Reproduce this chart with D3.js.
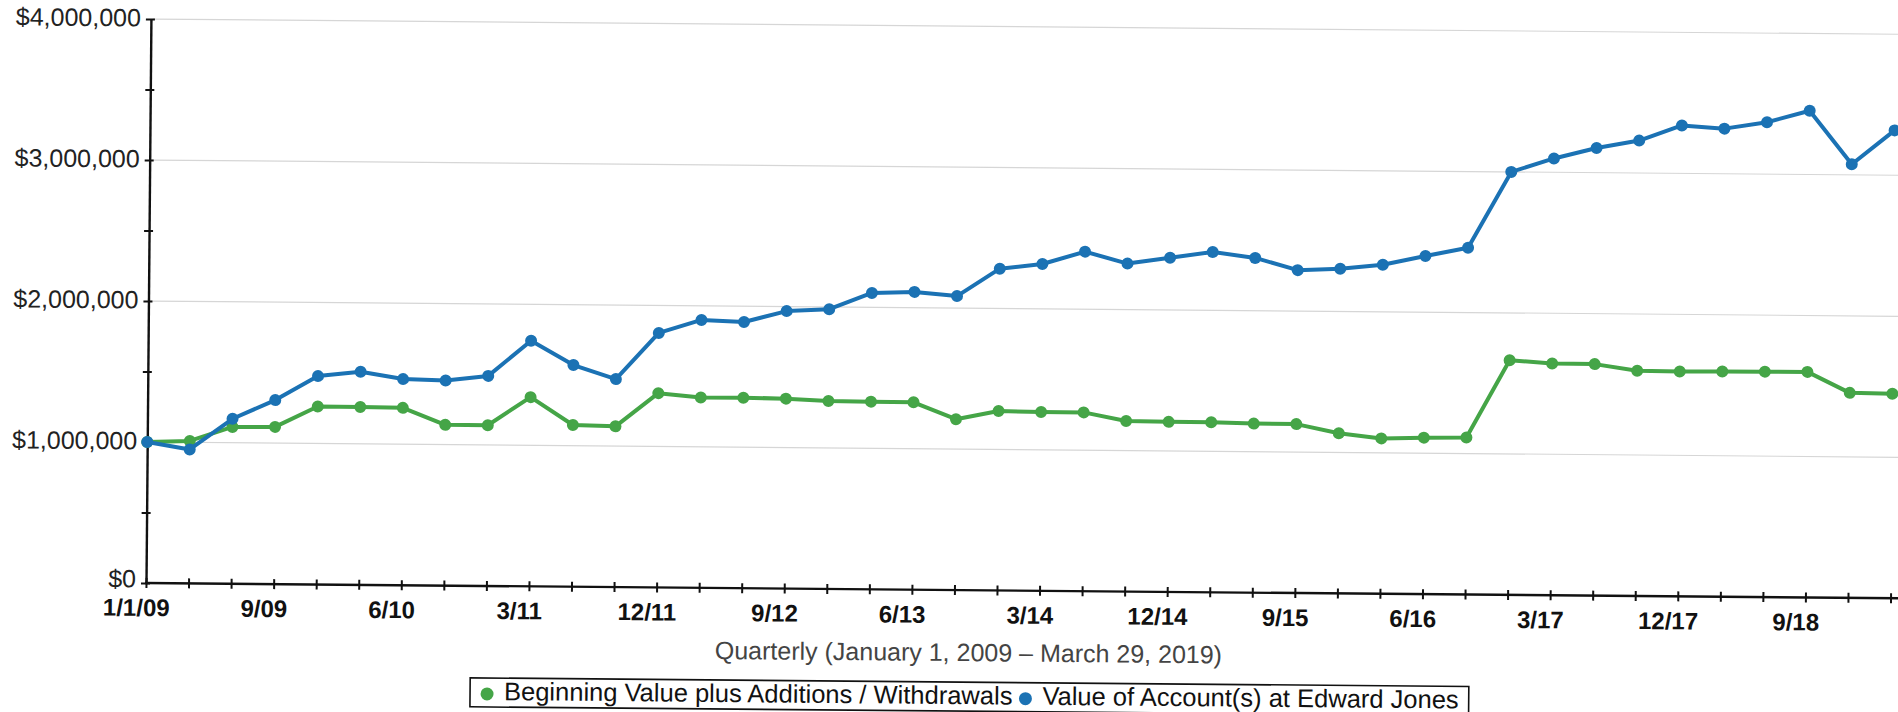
<!DOCTYPE html>
<html>
<head>
<meta charset="utf-8">
<script src="https://cdn.jsdelivr.net/npm/d3@7"></script>
<style>
  html, body { margin: 0; padding: 0; background: #fff; }
  svg { display: block; font-family: "Liberation Sans", Arial, sans-serif; }
</style>
</head>
<body>
<svg id="chart" width="1898" height="712"></svg>
<script>
// quarter ends, 1/1/09 .. 3/19
const quarters = [
  "1/1/09", "3/09", "6/09", "9/09", "12/09", "3/10", "6/10", "9/10", "12/10",
  "3/11", "6/11", "9/11", "12/11", "3/12", "6/12", "9/12", "12/12",
  "3/13", "6/13", "9/13", "12/13", "3/14", "6/14", "9/14", "12/14",
  "3/15", "6/15", "9/15", "12/15", "3/16", "6/16", "9/16", "12/16",
  "3/17", "6/17", "9/17", "12/17", "3/18", "6/18", "9/18", "12/18", "3/19"
];
const shownLabels = ["1/1/09", "9/09", "6/10", "3/11", "12/11", "9/12", "6/13",
  "3/14", "12/14", "9/15", "6/16", "3/17", "12/17", "9/18"];

const beginningValue = [
  1000000, 1010000, 1112000, 1115000, 1262000, 1262000, 1258000, 1140000, 1140000,
  1342000, 1147000, 1140000, 1378000, 1350000, 1351000, 1347000, 1333000,
  1331000, 1329000, 1212000, 1273000, 1268000, 1268000, 1210000, 1206000,
  1206000, 1199000, 1198000, 1136000, 1102000, 1110000, 1114000, 1664000,
  1644000, 1642000, 1597000, 1595000, 1598000, 1599000, 1600000, 1454000, 1450000
];
const accountValue = [
  1000000, 950000, 1170000, 1305000, 1478000, 1512000, 1462000, 1455000, 1490000,
  1742000, 1572000, 1475000, 1805000, 1900000, 1888000, 1968000, 1984000,
  2102000, 2112000, 2085000, 2282000, 2318000, 2408000, 2326000, 2370000,
  2414000, 2374000, 2290000, 2302000, 2333000, 2398000, 2459000, 3000000,
  3098000, 3175000, 3230000, 3340000, 3320000, 3368000, 3452000, 3075000, 3318000
];
const yTicks = [0, 500000, 1000000, 1500000, 2000000, 2500000, 3000000, 3500000, 4000000];

const series = [
  { name: "Beginning Value plus Additions / Withdrawals", values: beginningValue, color: "#45a547" },
  { name: "Value of Account(s) at Edward Jones", values: accountValue, color: "#1b72b4" }
];

const svg = d3.select("#chart");
// the source is a slightly skewed scan, so the whole drawing is tilted a bit
const g = svg.append("g").attr("transform", "rotate(0.5, 146, 583)");

const x = d3.scalePoint().domain(quarters).range([146, 1890.6]);
const y = d3.scaleLinear().domain([0, 4000000]).range([583, 19]);

// gridlines
g.append("g")
  .selectAll("line")
  .data(yTicks.filter(d => d > 0 && d % 1000000 === 0))
  .enter().append("line")
  .attr("x1", 148).attr("x2", 1910)
  .attr("y1", d => y(d)).attr("y2", d => y(d))
  .attr("stroke", "#d6d6d6")
  .attr("stroke-width", 1.2);

// y axis
const yAxis = g.append("g")
  .attr("transform", "translate(146,0)")
  .call(d3.axisLeft(y).tickValues(yTicks).tickSize(5).tickSizeOuter(0)
    .tickFormat(d => d % 1000000 === 0 ? d3.format("$,")(d) : ""));
yAxis.select(".domain").attr("stroke", "#111").attr("stroke-width", 2.4);
yAxis.selectAll(".tick line").attr("x1", 4).attr("stroke", "#111").attr("stroke-width", 2);
yAxis.selectAll(".tick text")
  .attr("x", -10)
  .attr("dy", d => d === 0 ? "0.16em" : "0.28em")
  .attr("fill", "#222")
  .style("font-size", "25px");

// x axis
const xAxis = g.append("g")
  .attr("transform", "translate(0,583)")
  .call(d3.axisBottom(x).tickSize(5).tickSizeOuter(0)
    .tickFormat(d => shownLabels.includes(d) ? d : ""));
xAxis.select(".domain").remove();
xAxis.append("line")
  .attr("x1", 145).attr("x2", 1910)
  .attr("stroke", "#111").attr("stroke-width", 2.4);
xAxis.selectAll(".tick line").attr("y1", -5).attr("stroke", "#111").attr("stroke-width", 2);
xAxis.selectAll(".tick text")
  .attr("y", 33).attr("dy", null).attr("dx", -10)
  .attr("fill", "#111")
  .style("font-size", "24px")
  .style("font-weight", "bold");

// axis title
g.append("text")
  .attr("x", 969).attr("y", 654)
  .attr("text-anchor", "middle")
  .attr("fill", "#444")
  .style("font-size", "25px")
  .text("Quarterly (January 1, 2009 \u2013 March 29, 2019)");

// lines + markers
const line = d3.line()
  .x((d, i) => x(quarters[i]))
  .y(d => y(d));

series.forEach(s => {
  g.append("path")
    .datum(s.values)
    .attr("d", line)
    .attr("fill", "none")
    .attr("stroke", s.color)
    .attr("stroke-width", 4)
    .attr("stroke-linejoin", "round");
  g.append("g")
    .selectAll("circle")
    .data(s.values)
    .enter().append("circle")
    .attr("cx", (d, i) => x(quarters[i]))
    .attr("cy", d => y(d))
    .attr("r", 6)
    .attr("fill", s.color);
});

// legend
const legend = g.append("g");
const box = legend.append("rect")
  .attr("x", 471).attr("y", 675)
  .attr("height", 29)
  .attr("fill", "#fff")
  .attr("stroke", "#111")
  .attr("stroke-width", 1.6);
let cursor = 471;
series.forEach(s => {
  legend.append("circle")
    .attr("cx", cursor + 17).attr("cy", 691)
    .attr("r", 6.5)
    .attr("fill", s.color);
  const t = legend.append("text")
    .attr("x", cursor + 34).attr("y", 697)
    .attr("fill", "#111")
    .style("font-size", "25.5px")
    .text(s.name);
  cursor = cursor + 34 + t.node().getComputedTextLength() - 4;
});
box.attr("width", cursor + 14 - 471);
</script>
</body>
</html>
